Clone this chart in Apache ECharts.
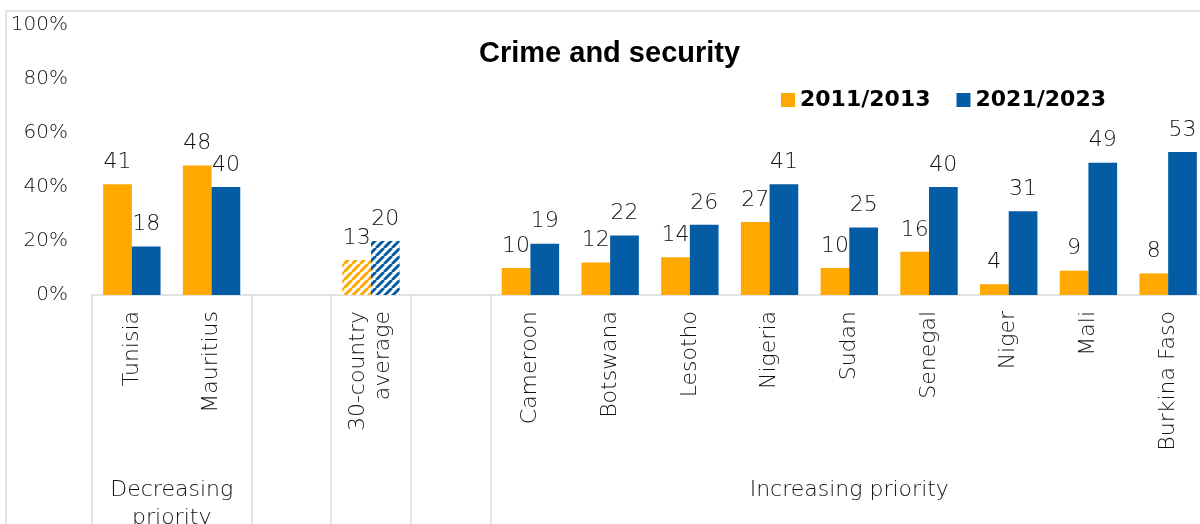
<!DOCTYPE html>
<html><head><meta charset="utf-8">
<script src="https://cdn.jsdelivr.net/npm/echarts@6/dist/echarts.min.js"></script>
<style>html,body{margin:0;padding:0;background:#fff}#c{width:1200px;height:524px}</style>
</head><body><div id="c"></div>
<script>
const categories = ['Tunisia','Mauritius',' ','30-country\naverage','  ','Cameroon','Botswana','Lesotho','Nigeria','Sudan','Senegal','Niger','Mali','Burkina Faso'];
const series2011 = [41,48,null,13,null,10,12,14,27,10,16,4,9,8];
const series2021 = [18,40,null,20,null,19,22,26,41,25,40,31,49,53];
const yTicks = [0,20,40,60,80,100];
const groupLabels = [{at:1, text:'Decreasing\npriority'},{at:9.5, text:'Increasing priority'}];
const separatorAt = [0,2,3,4,5];
const averageIndex = 3;

const ORANGE = '#FFA800', BLUE = '#045CA4';
function stripes(color){
  const c = document.createElement('canvas'); c.width = 8; c.height = 8;
  const g = c.getContext('2d');
  g.fillStyle = '#fff'; g.fillRect(0,0,8,8);
  g.strokeStyle = color; g.lineWidth = 3;
  g.beginPath();
  for (let k=-16;k<=16;k+=8){ g.moveTo(k,8); g.lineTo(k+8,0); }
  g.stroke();
  return {image:c, repeat:'repeat'};
}
function build(vals, color){
  return vals.map((v,i)=> i===averageIndex ? {value:v, itemStyle:{color:stripes(color)}} : v);
}
const FONT = 'DejaVu Sans';
const FW = 200;
const chart = echarts.init(document.getElementById('c'));
chart.setOption({
  animation:false,
  title:{text:'Crime and security', left:474, top:34, textStyle:{fontFamily:'Liberation Sans', fontSize:29, fontWeight:'bold', color:'#000'}},
  legend:{left:776, top:84, itemWidth:14, itemHeight:14, itemGap:26, icon:'rect',
    textStyle:{fontFamily:'DejaVu Sans', fontSize:22, fontWeight:'bold', color:'#000'}},
  grid:{left:92, top:25, width:1116, height:270, outerBoundsMode:'none', containLabel:false},
  xAxis:[{
    type:'category', data:categories,
    axisLine:{lineStyle:{color:'#d9d9d9', width:1.5}},
    axisTick:{show:true, length:232, interval:(i)=>separatorAt.includes(i), lineStyle:{color:'#d9d9d9', width:1.5}},
    axisLabel:{interval:0, rotate:90, margin:16, fontFamily:FONT, fontWeight:FW, fontSize:22, color:'#111', lineHeight:25}
  },{
    type:'value', min:0, max:14, interval:0.5, position:'bottom',
    axisLine:{show:false}, axisTick:{show:false}, splitLine:{show:false},
    axisLabel:{margin:181, fontFamily:FONT, fontWeight:FW, fontSize:22, color:'#111', lineHeight:28,
      formatter:(v)=>{const g=groupLabels.find(o=>o.at===v); return g?g.text:'';}}
  }],
  yAxis:{type:'value', min:0, max:100, interval:20,
    axisLine:{show:false}, axisTick:{show:false}, splitLine:{show:false},
    axisLabel:{margin:24, fontFamily:FONT, fontWeight:FW, fontSize:20, color:'#111', formatter:(v)=>yTicks.includes(v)?v+'%':''}},
  series:[
    {name:'2011/2013', type:'bar', data:build(series2011, ORANGE), itemStyle:{color:ORANGE}, barGap:'0%', barCategoryGap:'28%',
      label:{show:true, position:'top', distance:11, fontFamily:FONT, fontWeight:FW, fontSize:22, color:'#111'}},
    {name:'2021/2023', type:'bar', data:build(series2021, BLUE), itemStyle:{color:BLUE},
      label:{show:true, position:'top', distance:11, fontFamily:FONT, fontWeight:FW, fontSize:22, color:'#111'}}
  ],
  graphic:[{type:'rect', silent:true, shape:{x:6, y:11, width:1400, height:700}, style:{fill:null, stroke:'#d9d9d9', lineWidth:1.5}}]
});
</script></body></html>
